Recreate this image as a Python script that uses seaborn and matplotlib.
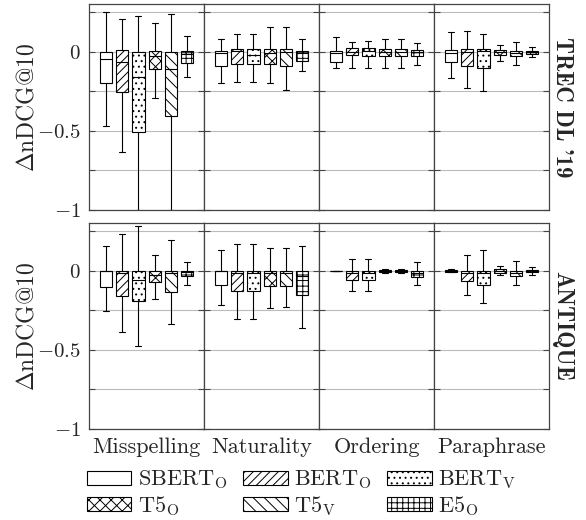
import pandas as pd
import seaborn as sns
import matplotlib.pyplot as plt
from matplotlib.patches import Patch
from matplotlib.ticker import MultipleLocator, FuncFormatter

DATASETS = ["TREC DL '19", "ANTIQUE"]
PERTURBATIONS = ["Misspelling", "Naturality", "Ordering", "Paraphrase"]
MODELS = ["SBERT_O", "BERT_O", "BERT_V", "T5_O", "T5_V", "E5_O"]
MODEL_LABELS = [r"SBERT$_\mathrm{O}$", r"BERT$_\mathrm{O}$", r"BERT$_\mathrm{V}$",
                r"T5$_\mathrm{O}$", r"T5$_\mathrm{V}$", r"E5$_\mathrm{O}$"]
HATCHES = ["", "////", "...", "xxx", "\\\\\\", "+++"]

# five-number summaries per model:
# (low whisker, q1, median, q3, high whisker)
TREC_MISSPELLING = [(-0.47, -0.196, -0.048, 0.0, 0.253),
                    (-0.636, -0.257, -0.067, 0.01, 0.204),
                    (-1.0, -0.505, -0.158, -0.004, 0.225),
                    (-0.29, -0.112, -0.03, 0.006, 0.179),
                    (-1.0, -0.404, -0.11, 0.0, 0.238),
                    (-0.158, -0.069, -0.017, 0.004, 0.10)]
TREC_NATURALITY = [(-0.20, -0.09, -0.01, 0.006, 0.08),
                   (-0.19, -0.08, 0.006, 0.02, 0.11),
                   (-0.19, -0.08, -0.02, 0.02, 0.11),
                   (-0.20, -0.08, -0.01, 0.02, 0.154),
                   (-0.242, -0.09, -0.004, 0.016, 0.158),
                   (-0.122, -0.057, -0.01, 0.004, 0.078)]
TREC_ORDERING = [(-0.10, -0.063, -0.006, 0.004, 0.09),
                 (-0.10, -0.02, 0.0, 0.025, 0.063),
                 (-0.10, -0.025, 0.004, 0.025, 0.067),
                 (-0.105, -0.027, 0.0, 0.02, 0.08),
                 (-0.105, -0.027, 0.0, 0.02, 0.08),
                 (-0.084, -0.027, -0.004, 0.01, 0.053)]
TREC_PARAPHRASE = [(-0.164, -0.063, -0.006, 0.01, 0.122),
                   (-0.227, -0.088, 0.0, 0.017, 0.133),
                   (-0.248, -0.10, 0.004, 0.017, 0.11),
                   (-0.06, -0.02, -0.004, 0.01, 0.042),
                   (-0.084, -0.03, -0.01, 0.006, 0.063),
                   (-0.036, -0.015, -0.004, 0.006, 0.027)]
ANTIQUE_MISSPELLING = [(-0.253, -0.103, 0.0, 0.0, 0.158),
                       (-0.39, -0.162, -0.015, 0.0, 0.234),
                       (-0.475, -0.19, -0.057, 0.0, 0.28),
                       (-0.177, -0.072, -0.025, 0.0, 0.10),
                       (-0.335, -0.135, -0.015, 0.0, 0.196),
                       (-0.089, -0.036, -0.008, 0.0, 0.055)]
ANTIQUE_NATURALITY = [(-0.215, -0.093, 0.0, 0.0, 0.129),
                      (-0.306, -0.127, -0.015, 0.0, 0.171),
                      (-0.306, -0.127, -0.015, 0.0, 0.171),
                      (-0.236, -0.10, -0.015, 0.0, 0.143),
                      (-0.232, -0.10, -0.015, 0.0, 0.143),
                      (-0.363, -0.152, -0.036, 0.0, 0.158)]
ANTIQUE_ORDERING = [(0.0, 0.0, 0.0, 0.0, 0.0),
                    (-0.13, -0.061, -0.015, 0.0, 0.074),
                    (-0.13, -0.061, -0.015, 0.0, 0.074),
                    (-0.015, -0.008, 0.0, 0.004, 0.01),
                    (-0.015, -0.008, 0.0, 0.004, 0.01),
                    (-0.093, -0.042, -0.015, 0.0, 0.055)]
ANTIQUE_PARAPHRASE = [(-0.01, -0.006, 0.0, 0.004, 0.01),
                      (-0.152, -0.068, -0.015, 0.0, 0.10),
                      (-0.205, -0.089, -0.015, 0.0, 0.129),
                      (-0.025, -0.015, 0.0, 0.013, 0.027),
                      (-0.089, -0.036, -0.015, 0.0, 0.059),
                      (-0.025, -0.01, 0.0, 0.006, 0.023)]

SUMMARIES = {
    ("TREC DL '19", "Misspelling"): TREC_MISSPELLING,
    ("TREC DL '19", "Naturality"): TREC_NATURALITY,
    ("TREC DL '19", "Ordering"): TREC_ORDERING,
    ("TREC DL '19", "Paraphrase"): TREC_PARAPHRASE,
    ("ANTIQUE", "Misspelling"): ANTIQUE_MISSPELLING,
    ("ANTIQUE", "Naturality"): ANTIQUE_NATURALITY,
    ("ANTIQUE", "Ordering"): ANTIQUE_ORDERING,
    ("ANTIQUE", "Paraphrase"): ANTIQUE_PARAPHRASE,
}


def build_frame():
    """Long table: five points per box give exactly the read quartiles/whiskers"""
    rows = []
    for (ds, pert), stats in SUMMARIES.items():
        for model, five in zip(MODELS, stats):
            for v in five:
                rows.append({"dataset": ds, "perturbation": pert, "model": model, "delta": v})
    return pd.DataFrame(rows)


def tick_label(v, _):
    if abs(v) < 1e-9:
        return r"$0$"
    if abs(v + 0.5) < 1e-9:
        return r"$-0.5$"
    if abs(v + 1) < 1e-9:
        return r"$-1$"
    return ""


def main():
    df = build_frame()

    sns.set_theme(style="white")
    plt.rcParams.update({
        "font.family": ["cmr10", "DejaVu Serif"],
        "mathtext.fontset": "cm",
        "axes.formatter.use_mathtext": True,
        "hatch.linewidth": 0.7,
        "axes.edgecolor": "#444444",
        "axes.linewidth": 0.9,
    })

    fig, axes = plt.subplots(2, 4, figsize=(5.86, 5.2), dpi=100, sharey=True)
    fig.subplots_adjust(left=0.152, right=0.937, top=0.992, bottom=0.175,
                        wspace=0, hspace=0.063)

    for i, ds in enumerate(DATASETS):
        for j, pert in enumerate(PERTURBATIONS):
            ax = axes[i, j]
            sub = df[(df["dataset"] == ds) & (df["perturbation"] == pert)]
            sns.boxplot(data=sub, y="delta", hue="model", hue_order=MODELS,
                        palette=["white"] * len(MODELS), linecolor="black",
                        linewidth=0.8, whis=(0, 100), showfliers=False,
                        width=0.85, gap=0.25, legend=False, ax=ax)

            # hatch boxes left to right
            boxes = sorted(ax.patches, key=lambda p: p.get_path().vertices[:, 0].mean())
            for box, h in zip(boxes, HATCHES):
                box.set_hatch(h)
                box.set_edgecolor("black")

            ax.set_xlim(-0.5, 0.5)
            ax.set_ylim(-1, 0.3)
            ax.yaxis.set_major_locator(MultipleLocator(0.25))
            ax.yaxis.set_major_formatter(FuncFormatter(tick_label))
            ax.grid(axis="y", color="#bbbbbb", linewidth=0.8)
            ax.set_axisbelow(True)
            ax.tick_params(axis="y", direction="in", left=True, right=True,
                           length=4, width=0.8, color="#444444", labelsize=15, pad=6)
            ax.tick_params(axis="x", bottom=False, labelbottom=False)
            ax.set_xticks([])

            if i == 1:
                ax.set_xlabel(pert, fontsize=16, labelpad=6)
            else:
                ax.set_xlabel("")
            if j == 0:
                ax.set_ylabel(r"$\Delta\mathrm{nDCG@10}$", fontsize=17, labelpad=-1)
            else:
                ax.set_ylabel("")

        # dataset name on the right
        pos = axes[i, 3].get_position()
        fig.text(0.959, (pos.y0 + pos.y1) / 2, ds, rotation=-90, ha="center",
                 va="center", fontsize=16.5, family="cmb10")

    # legend filled row by row: reorder for matplotlib's column-wise filling
    order = [0, 3, 1, 4, 2, 5]
    handles = [Patch(facecolor="white", edgecolor="black", hatch=HATCHES[k], linewidth=0.8)
               for k in order]
    labels = [MODEL_LABELS[k] for k in order]
    fig.legend(handles, labels, loc="upper left", bbox_to_anchor=(0.148, 0.099),
               ncol=3, frameon=False, fontsize=16, handlelength=2.0, handleheight=0.6,
               handletextpad=0.3, columnspacing=0.7, labelspacing=0.12,
               borderaxespad=0, borderpad=0)

    fig.savefig("out.png", dpi=100)
    plt.close()


if __name__ == "__main__":
    main()
